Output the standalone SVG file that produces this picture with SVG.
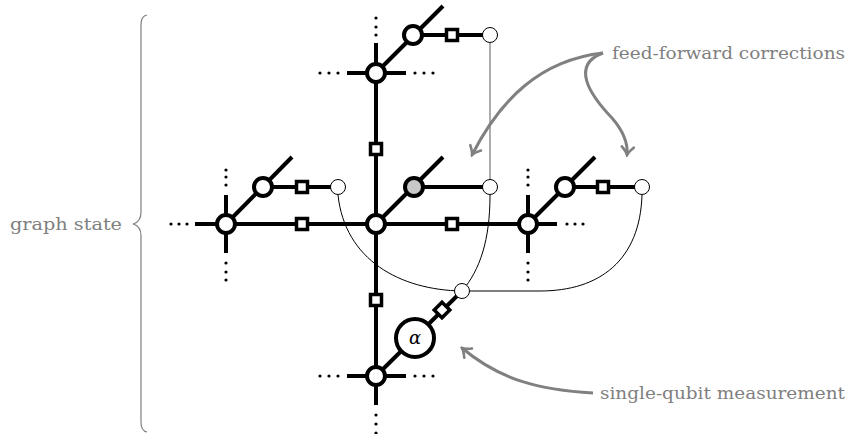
<svg xmlns="http://www.w3.org/2000/svg" width="854" height="434" viewBox="0 0 854 434">
<defs>
<style>
.e{stroke:#000;stroke-width:4;fill:none;stroke-linecap:butt}
.n{fill:#fff;stroke:#000;stroke-width:4}
.g{fill:#c8c8c8;stroke:#000;stroke-width:4}
.sq{fill:#fff;stroke:#000;stroke-width:3.5}
.o{fill:#fff;stroke:#000;stroke-width:1}
.c{fill:none;stroke:#000;stroke-width:1}
.cg{fill:none;stroke:#777;stroke-width:1.2}
.a{fill:none;stroke:#808080;stroke-width:3}
.d{fill:#000}
.t{font-family:"DejaVu Serif","Liberation Serif",serif;font-size:17px;fill:#808080}
</style>
<marker id="ah" viewBox="-10 -8 12 16" refX="0" refY="0" markerWidth="12" markerHeight="16" markerUnits="userSpaceOnUse" orient="auto">
<path d="M-8,-6 Q-3,-1 0,0 Q-3,1 -8,6" fill="none" stroke="#808080" stroke-width="2.6" stroke-linecap="round"/>
</marker>
</defs>

<g id="connectors">
<path class="e" d="M376,43 V405"/>
<path class="e" d="M347,73 H406"/>
<path class="e" d="M347,376 H406"/>
<path class="e" d="M195,224 H557"/>
<path class="e" d="M226,195 V253"/>
<path class="e" d="M528,195 V253"/>
<path class="e" d="M376,73 L443,6"/>
<path class="e" d="M413,35 H490"/>
<path class="e" d="M376,224 L443,157"/>
<path class="e" d="M414,187 H490"/>
<path class="e" d="M226,224 L292,157"/>
<path class="e" d="M263,187 H338"/>
<path class="e" d="M528,224 L595,157"/>
<path class="e" d="M565,187 H642"/>
<path class="e" d="M376,376 L462,291"/>
<path class="cg" d="M490,43 V187"/>
<path class="c" d="M338,195 C345,260 400,290 462,291"/>
<path class="c" d="M490,195 C490,240 480,270 462,291"/>
<path class="c" d="M642,195 C640,260 600,291 540,291 L462,291"/>
</g>

<g id="dots">
<circle class="d" cx="376" cy="18" r="1.6"/><circle class="d" cx="376" cy="27" r="1.6"/><circle class="d" cx="376" cy="35" r="1.6"/>
<circle class="d" cx="320" cy="73" r="1.6"/><circle class="d" cx="329" cy="73" r="1.6"/><circle class="d" cx="338" cy="73" r="1.6"/>
<circle class="d" cx="415" cy="73" r="1.6"/><circle class="d" cx="424" cy="73" r="1.6"/><circle class="d" cx="433" cy="73" r="1.6"/>
<circle class="d" cx="320" cy="376" r="1.6"/><circle class="d" cx="329" cy="376" r="1.6"/><circle class="d" cx="338" cy="376" r="1.6"/>
<circle class="d" cx="415" cy="376" r="1.6"/><circle class="d" cx="424" cy="376" r="1.6"/><circle class="d" cx="433" cy="376" r="1.6"/>
<circle class="d" cx="376" cy="415" r="1.6"/><circle class="d" cx="376" cy="424" r="1.6"/><circle class="d" cx="376" cy="433" r="1.6"/>
<circle class="d" cx="171" cy="224" r="1.6"/><circle class="d" cx="179" cy="224" r="1.6"/><circle class="d" cx="187" cy="224" r="1.6"/>
<circle class="d" cx="226" cy="170" r="1.6"/><circle class="d" cx="226" cy="177" r="1.6"/><circle class="d" cx="226" cy="185" r="1.6"/>
<circle class="d" cx="226" cy="263" r="1.6"/><circle class="d" cx="226" cy="272" r="1.6"/><circle class="d" cx="226" cy="280" r="1.6"/>
<circle class="d" cx="528" cy="170" r="1.6"/><circle class="d" cx="528" cy="177" r="1.6"/><circle class="d" cx="528" cy="185" r="1.6"/>
<circle class="d" cx="528" cy="263" r="1.6"/><circle class="d" cx="528" cy="272" r="1.6"/><circle class="d" cx="528" cy="280" r="1.6"/>
<circle class="d" cx="567" cy="224" r="1.6"/><circle class="d" cx="575" cy="224" r="1.6"/><circle class="d" cx="583" cy="224" r="1.6"/>
</g>

<g id="squares">
<rect class="sq" x="446.5" y="29.5" width="11" height="11"/>
<rect class="sq" x="370.5" y="143.5" width="11" height="11"/>
<rect class="sq" x="370.5" y="294.5" width="11" height="11"/>
<rect class="sq" x="296.5" y="181.5" width="11" height="11"/>
<rect class="sq" x="296.5" y="218.5" width="11" height="11"/>
<rect class="sq" x="446.5" y="218.5" width="11" height="11"/>
<rect class="sq" x="597.5" y="181.5" width="11" height="11"/>
<rect class="sq" x="-5.5" y="-5.5" width="11" height="11" transform="translate(442,310) rotate(45)"/>
</g>

<g id="node-top"><circle class="n" cx="376" cy="73" r="9"/></g>
<g id="node-top-branch"><circle class="n" cx="413" cy="35" r="9"/></g>
<g id="node-top-out"><circle class="o" cx="490" cy="35" r="7.5"/></g>
<g id="node-center"><circle class="n" cx="376" cy="224" r="9"/></g>
<g id="node-center-branch"><circle class="g" cx="414" cy="187" r="9"/></g>
<g id="node-center-out"><circle class="o" cx="490" cy="187" r="7.5"/></g>
<g id="node-left"><circle class="n" cx="226" cy="224" r="9"/></g>
<g id="node-left-branch"><circle class="n" cx="263" cy="187" r="9"/></g>
<g id="node-left-out"><circle class="o" cx="338" cy="187" r="7.5"/></g>
<g id="node-right"><circle class="n" cx="528" cy="224" r="9"/></g>
<g id="node-right-branch"><circle class="n" cx="565" cy="187" r="9"/></g>
<g id="node-right-out"><circle class="o" cx="642" cy="187" r="7.5"/></g>
<g id="node-bottom"><circle class="n" cx="376" cy="376" r="9"/></g>
<g id="node-alpha"><circle class="n" cx="415" cy="338" r="19"/>
<text x="415" y="344" text-anchor="middle" font-family="'DejaVu Serif','Liberation Serif',serif" font-style="italic" font-size="18">α</text></g>
<g id="node-meas-out"><circle class="o" cx="462" cy="291" r="7.5"/></g>

<g id="annotations">
<path class="a" marker-end="url(#ah)" d="M603,53 C540,60 500,100 472,155"/>
<path class="a" marker-end="url(#ah)" d="M603,53 C570,65 590,95 612,118 C625,133 628,145 627,155"/>
<path class="a" marker-end="url(#ah)" d="M593,393 C540,390 500,380 462,348"/>
<text class="t" x="612" y="59" textLength="233" lengthAdjust="spacingAndGlyphs">feed-forward corrections</text>
<text class="t" x="600" y="399" textLength="245" lengthAdjust="spacingAndGlyphs">single-qubit measurement</text>
<text class="t" x="10" y="230" textLength="112" lengthAdjust="spacingAndGlyphs">graph state</text>
<path fill="none" stroke="#808080" stroke-width="1.2" d="M147,15 Q141,16 141,25 V212 Q141,222 133,224 Q141,226 141,236 V422 Q141,431 147,432"/>
</g>
</svg>
